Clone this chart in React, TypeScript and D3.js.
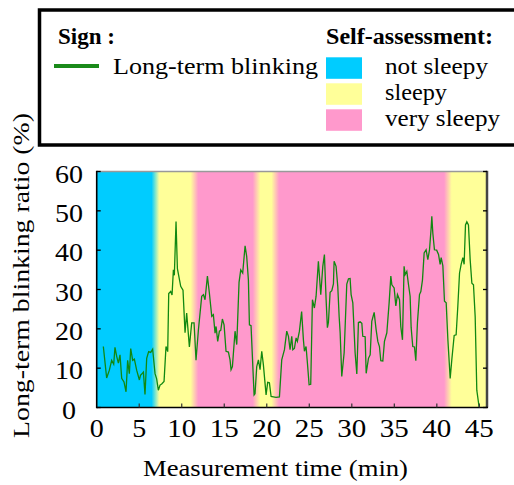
import React from "react";
import * as d3 from "d3";

// ---- data ----
const timeMin: number[] = [
  0.78, 1.17, 1.49, 1.76, 2.0, 2.15, 2.35, 2.55, 2.74, 2.94, 3.21, 3.45, 3.64, 3.84, 4.0, 4.23, 4.43, 4.7, 5.02, 5.15,
  5.29, 5.49, 5.68, 5.88, 6.11, 6.35, 6.58, 6.86, 7.05, 7.25, 7.45, 7.64, 7.92, 8.15, 8.35, 8.47, 8.7, 8.86, 9.02, 9.13,
  9.33, 9.49, 9.88, 10.15, 10.39, 10.58, 10.9, 11.17, 11.45, 11.68, 11.96, 12.35, 12.55, 12.74, 13.02, 13.25, 13.53, 13.72, 13.92, 14.04,
  14.23, 14.43, 14.59, 14.78, 14.98, 15.21, 15.49, 15.68, 15.8, 15.96, 16.27, 16.47, 16.74, 16.94, 17.17, 17.45, 17.64, 17.84, 17.96, 18.15,
  18.51, 18.62, 18.82, 19.02, 19.21, 19.41, 19.6, 19.92, 20.11, 20.31, 20.51, 20.78, 21.09, 21.49, 21.76, 22.08, 22.35, 22.55, 22.74, 22.94,
  23.06, 23.25, 23.45, 23.6, 23.84, 24.1, 24.31, 24.43, 24.62, 24.78, 24.98, 25.17, 25.37, 25.6, 25.8, 26.07, 26.35, 26.59, 26.78, 26.98,
  27.13, 27.25, 27.45, 27.65, 27.84, 27.92, 28.15, 28.35, 28.51, 28.63, 28.82, 29.1, 29.41, 29.61, 29.8, 29.92, 30.12, 30.39, 30.59, 30.78,
  30.98, 31.18, 31.29, 31.57, 31.69, 31.96, 32.16, 32.35, 32.63, 32.86, 33.06, 33.25, 33.41, 33.65, 33.84, 34.12, 34.39, 34.59, 34.71, 34.98,
  35.18, 35.37, 35.61, 35.76, 35.96, 36.15, 36.27, 36.47, 36.67, 36.86, 36.98, 37.17, 37.37, 37.53, 37.72, 37.96, 38.12, 38.31, 38.51, 38.74,
  38.94, 39.14, 39.33, 39.41, 39.53, 39.72, 39.98, 40.2, 40.39, 40.51, 40.71, 40.9, 41.1, 41.3, 41.57, 41.76, 42.04, 42.27, 42.47, 42.67,
  42.86, 43.06, 43.21, 43.37, 43.53, 43.72, 43.92, 44.12, 44.31, 44.51, 44.7, 44.98,
];
const blinkRatio: number[] = [
  15.5, 7.5, 9.5, 12, 11, 15.3, 13, 11.3, 13.4, 7.4, 6.5, 4, 12, 8.6, 15, 12, 12.3, 9.5, 7, 8.2,
  8.5, 9, 3.3, 12.5, 14.2, 14, 14.8, 8.6, 7.3, 4.4, 5.7, 6, 6.6, 15.5, 14.2, 29, 29.5, 28.6, 35, 33.6,
  47.3, 35.3, 30.8, 29.8, 19, 24, 15.4, 21.5, 21.5, 12, 19.7, 28.3, 28.7, 27.4, 33.4, 29.1, 23.2, 23.6, 18.9, 20.6,
  16.8, 19.4, 19.6, 22.5, 21, 14.3, 14.1, 12.1, 9.6, 10.4, 19.4, 16, 31.8, 35, 34.2, 41.1, 38.4, 32.4, 21, 20.8,
  3.2, 3.5, 10.4, 12.1, 9.6, 14.3, 10.9, 3.2, 6.4, 6.3, 2.8, 2.7, 2.6, 2.7, 12.1, 14.7, 19.4, 18.1, 14.7, 18.1,
  14.7, 15, 17.7, 16.8, 19.4, 24.4, 17.2, 14.3, 15.5, 11.3, 5.8, 5.9, 27.4, 25.3, 28.3, 37.2, 28.7, 35.9, 38.9, 27.4,
  20.3, 21.6, 29.3, 29.7, 31.4, 37.2, 35.9, 30.8, 23.2, 19, 7.9, 13.9, 31.4, 32.7, 32.8, 28.7, 26.6, 13.9, 8.5, 21.6,
  21.8, 21.4, 18.1, 18, 8.7, 12.5, 13.4, 21.9, 24.2, 19.8, 16.8, 15.5, 11.9, 11.8, 16.8, 19, 26.6, 33.4, 31.2, 30.4,
  25.8, 28.7, 27.4, 20.6, 17.2, 35.9, 33.8, 34.6, 31.2, 28.3, 20.3, 15.5, 15.4, 11.9, 21.6, 28.7, 29.5, 32.4, 39.3, 40.1,
  37.6, 40.1, 45.6, 48.6, 44.3, 40.1, 40, 38.9, 36.4, 38.1, 36, 27, 26.6, 17.2, 7.4, 12.1, 18.3, 18.5, 25.8, 34.2,
  36.4, 38.1, 36.4, 46.4, 47.2, 46.4, 37.6, 31.6, 31.2, 23.1, 4.4, 0,
];

// self-assessment segments (start minute, level)
const assessStart: number[] = [0, 6.9, 11.5, 18.8, 21.0, 41.3];
const assessLevel: string[] = ["not sleepy", "sleepy", "very sleepy", "sleepy", "very sleepy", "sleepy"];
const levelNames: string[] = ["not sleepy", "sleepy", "very sleepy"];
const levelColors: string[] = ["#00CCFF", "#FFFF99", "#FF99CC"];

const xTicks: number[] = [0, 5, 10, 15, 20, 25, 30, 35, 40, 45];
const yTicks: number[] = [0, 10, 20, 30, 40, 50, 60];
const xMax = 45.9;

const FONT = "'Liberation Serif', 'DejaVu Serif', serif";

export default function App() {
  const x = d3.scaleLinear().domain([0, xMax]).range([96.7, 487]);
  const y = d3.scaleLinear().domain([0, 60]).range([407.5, 171.5]);
  const colorOf = (lvl: string) => levelColors[levelNames.indexOf(lvl)];

  // gradient stops for soft transitions between bands
  const trans = 0.9;
  const stops: { off: number; c: string }[] = [];
  const x0 = 0, x1 = xMax;
  stops.push({ off: 0, c: colorOf(assessLevel[0]) });
  for (let i = 1; i < assessStart.length; i++) {
    const b = assessStart[i];
    stops.push({ off: (b - trans / 2 - x0) / (x1 - x0), c: colorOf(assessLevel[i - 1]) });
    stops.push({ off: (b + trans / 2 - x0) / (x1 - x0), c: colorOf(assessLevel[i]) });
  }
  stops.push({ off: 1, c: colorOf(assessLevel[assessLevel.length - 1]) });

  const pts: [number, number][] = timeMin.map((t, i) => [t, blinkRatio[i]]);
  const line = d3
    .line<[number, number]>()
    .x((d) => x(d[0]))
    .y((d) => y(d[1]));

  const [px0, px1] = x.range();
  const [py0, py1] = y.range();
  const tf = { fontFamily: FONT };

  return (
    <svg width={514} height={485} style={{ position: "absolute", left: 0, top: 0, fontFamily: FONT }}>
      <defs>
        <linearGradient id="bands" gradientUnits="userSpaceOnUse" x1={x(x0)} x2={x(x1)} y1={0} y2={0}>
          {stops.map((s, i) => (
            <stop key={i} offset={s.off} stopColor={s.c} />
          ))}
        </linearGradient>
        <clipPath id="plotclip">
          <rect x={px0} y={py1} width={px1 - px0} height={py0 - py1} />
        </clipPath>
      </defs>

      {/* Legend box */}
      <rect x={39.5} y={10} width={490} height={135} fill="white" stroke="black" strokeWidth={3.5} />
      <text style={tf} x={58} y={44} fontSize={23} fontWeight="bold" textLength={57} lengthAdjust="spacingAndGlyphs">
        Sign :
      </text>
      <line x1={54} x2={99} y1={66} y2={66} stroke="#1a8a1a" strokeWidth={4} />
      <text style={tf} x={113} y={73.5} fontSize={24} textLength={205} lengthAdjust="spacingAndGlyphs">
        Long-term blinking
      </text>
      <text style={tf} x={326} y={44} fontSize={23} fontWeight="bold" textLength={167} lengthAdjust="spacingAndGlyphs">
        Self-assessment:
      </text>
      {levelNames.map((n, i) => (
        <rect key={n} x={326} y={57.3 + i * 26} width={36} height={21.5} fill={levelColors[i]} />
      ))}
      <text style={tf} x={385} y={73.5} fontSize={24} textLength={103} lengthAdjust="spacingAndGlyphs">
        {levelNames[0]}
      </text>
      <text style={tf} x={385} y={99.5} fontSize={24} textLength={62} lengthAdjust="spacingAndGlyphs">
        {levelNames[1]}
      </text>
      <text style={tf} x={385} y={125.5} fontSize={24} textLength={115} lengthAdjust="spacingAndGlyphs">
        {levelNames[2]}
      </text>

      {/* Plot background bands */}
      <rect x={px0} y={py1} width={px1 - px0} height={py0 - py1} fill="url(#bands)" />

      {/* data line */}
      <path d={line(pts) || ""} fill="none" stroke="#118811" strokeWidth={1.3} clipPath="url(#plotclip)" />

      {/* frame */}
      <line x1={px0} x2={px1} y1={py1} y2={py1} stroke="#999" strokeWidth={1.5} />
      <line x1={px1} x2={px1} y1={py1 - 0.7} y2={py0} stroke="#444" strokeWidth={2.5} />
      <line x1={px0} x2={px0} y1={py1 - 0.7} y2={py0 + 0.7} stroke="black" strokeWidth={1.6} />
      <line x1={px0} x2={px1 + 1} y1={py0} y2={py0} stroke="black" strokeWidth={1.6} />

      {/* ticks */}
      {yTicks.map((t) => (
        <g key={"y" + t}>
          <line x1={px0} x2={px0 + 4} y1={y(t)} y2={y(t)} stroke="black" strokeWidth={1.3} />
          <line x1={px1 - 4} x2={px1} y1={y(t)} y2={y(t)} stroke="black" strokeWidth={1.3} />
          <text style={tf} x={69} y={y(t) + 11} fontSize={26} textAnchor="middle" textLength={t === 0 ? 14 : 28} lengthAdjust="spacingAndGlyphs">
            {t}
          </text>
        </g>
      ))}
      {xTicks.map((t) => (
        <g key={"x" + t}>
          {t > 0 && <line x1={x(t)} x2={x(t)} y1={py0} y2={py0 - 4} stroke="#333" strokeWidth={1.2} />}
          <text style={tf} x={x(t)} y={437} fontSize={26} textAnchor="middle" textLength={t < 10 ? 14 : 29} lengthAdjust="spacingAndGlyphs">
            {t}
          </text>
        </g>
      ))}

      {/* axis titles */}
      <text style={tf} x={275.5} y={476} fontSize={24} textAnchor="middle" textLength={265} lengthAdjust="spacingAndGlyphs">
        Measurement time (min)
      </text>
      <text
        style={tf}
        transform={`translate(29,275.5) rotate(-90)`}
        fontSize={24}
        textAnchor="middle"
        textLength={325}
        lengthAdjust="spacingAndGlyphs"
      >
        Long-term blinking ratio (%)
      </text>
    </svg>
  );
}
